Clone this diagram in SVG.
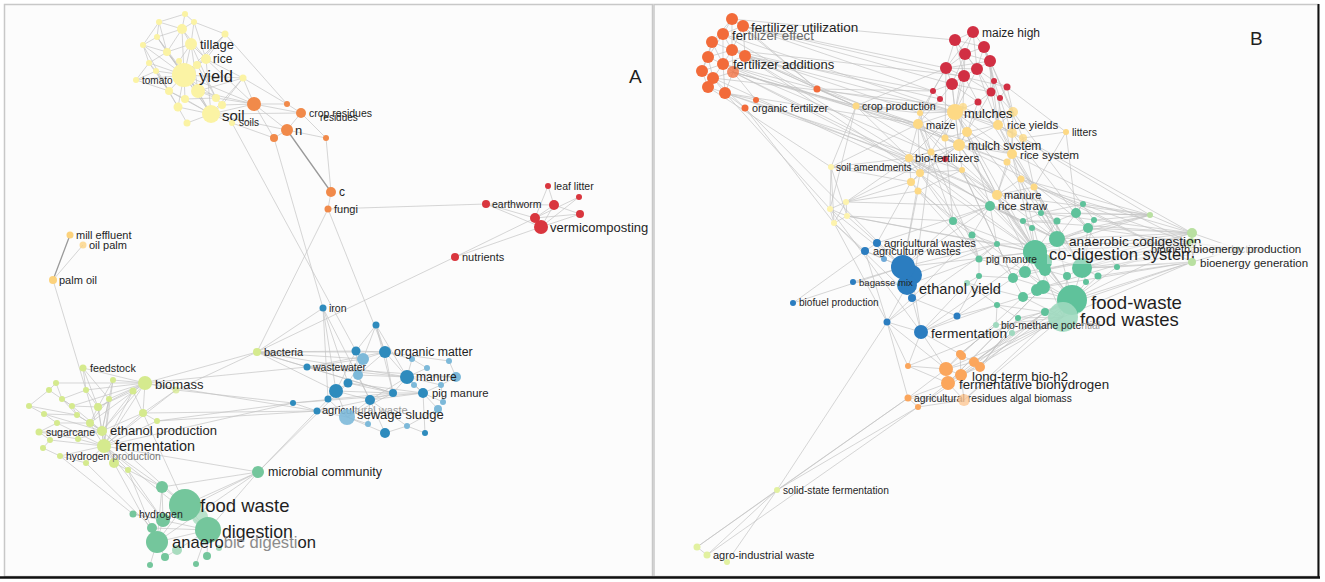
<svg xmlns="http://www.w3.org/2000/svg" width="1325" height="582" viewBox="0 0 1325 582">
<style>
.e{stroke:#c2c2c2;stroke-width:0.8;fill:none;stroke-opacity:0.85}
.ed{stroke:#9a9a9a;stroke-width:1.3;fill:none}
text{font-family:"Liberation Sans",Arial,sans-serif;fill:#1f1f1f}
.ya{fill:#fbf3a4}.oa{fill:#f18a4a}.ra{fill:#d9363e}.pa{fill:#fcd27c}
.ba{fill:#2e8bbd}.bl{fill:#7db9d9}.la{fill:#d5ea8e}.ga{fill:#74c69c}.gl{fill:#a9dcbf}
.fb{fill:#f26b3a}.rb{fill:#d12f43}.yb{fill:#fdd985}.pyb{fill:#fdf3ad}
.gb{fill:#5fc29b}.glb{fill:#9fd9bf}.bb{fill:#2b7dc0}.blb{fill:#6ea9d8}.ob{fill:#fba65c}.olb{fill:#fcc794}
.lgb{fill:#b9e0a1}.lgb2{fill:#e2f1a0}
</style>
<rect x="0" y="0" width="1325" height="582" fill="#ffffff"/>
<g id="frames">
<rect x="4.5" y="4.5" width="648" height="572" fill="#fcfcfc" stroke="#c8c8c8" stroke-width="1.5"/>
<rect x="654" y="4.5" width="664" height="572" fill="#fcfcfc" stroke="#c8c8c8" stroke-width="1.5"/>
<line x1="1318.5" y1="4" x2="1318.5" y2="578" stroke="#111" stroke-width="2"/>
<line x1="0" y1="577.5" x2="1320" y2="577.5" stroke="#111" stroke-width="2.5"/>
<text x="629" y="83" font-size="19">A</text>
<text x="1250" y="45" font-size="19">B</text>
</g>

<g id="connectors">
<path class="e" d="M185,14L182,29 M185,14L159,22 M185,14L194,22 M159,22L182,29 M194,22L182,29 M194,22L225,34 M182,29L191,44 M182,29L157,37 M159,22L157,37 M157,37L143,45 M157,37L167,52 M143,45L167,52 M143,45L149,63 M191,44L167,52 M191,44L206,59 M191,44L184,75 M191,44L179,61 M167,52L184,75 M167,52L149,63 M149,63L156,71 M156,71L184,75 M136,80L156,71 M136,80L184,75 M149,63L184,75 M179,61L184,75 M206,59L184,75 M206,59L197,65 M197,65L184,75 M225,34L206,59 M225,34L184,75 M243,78L184,75 M243,78L198,91 M243,78L222,105 M243,78L211,114 M184,75L169,91 M184,75L198,91 M184,75L185,99 M184,75L216,98 M184,75L211,114 M184,75L178,107 M169,91L178,107 M169,91L185,99 M198,91L216,98 M198,91L211,114 M185,99L211,114 M178,107L211,114 M178,107L187,123 M187,123L211,114 M216,98L222,105 M222,105L211,114 M211,114L232,123 M156,71L169,91 M143,45L184,75 M159,22L167,52 M182,29L206,59 M194,22L206,59 M136,80L169,91 M149,63L169,91 M157,37L184,75 M225,34L197,65 M167,52L198,91 M191,44L198,91 M179,61L211,114 M206,59L211,114 M185,99L216,98 M169,91L211,114 M182,29L184,75 M194,22L191,44 M159,22L143,45 M206,59L243,78 M197,65L216,98 M179,61L198,91 M156,71L178,107 M149,63L136,80 M167,52L211,114 M143,45L169,91 M157,37L198,91 M191,44L216,98 M182,29L167,52"/>
<path class="e" d="M243,78L254,104 M222,105L254,104 M211,114L254,104 M216,98L254,104 M198,91L254,104 M225,34L287,104 M211,114L287,130 M232,123L274,138 M206,59L254,104 M211,114L301,113 M184,75L254,104 M254,104L287,104 M254,104L301,113 M254,104L287,130 M254,104L274,138 M287,104L301,113 M301,113L287,130 M301,113L326,138 M287,130L326,138 M274,138L287,130 M326,138L331,192 M331,192L328,209 M274,138L323,308 M232,123L356,351 M328,209L486,204 M328,209L257,352 M328,209L385,352 M243,78L287,104"/>
<path class="ed" d="M287,130L331,192 M70,235L53,280"/>
<path class="e" d="M486,204L541,227 M486,204L535,218 M548,186L535,218 M486,204L554,205 M554,205L580,214 M554,205L541,227 M579,197L541,227 M579,197L535,218 M580,214L541,227 M535,218L554,205 M455,257L535,218 M455,257L541,227 M455,257L257,352 M548,186L554,205 M580,214L535,218 M83,245L53,280 M53,280L95,420"/>
<path class="e" d="M83,368L145,383 M83,368L86,390 M83,368L98,407 M83,368L109,399 M145,383L113,380 M145,383L133,391 M145,383L176,390 M145,383L109,399 M145,383L98,407 M145,383L143,413 M145,383L90,423 M145,383L102,431 M145,383L104,446 M145,383L86,390 M145,383L72,406 M145,383L56,383 M56,383L49,390 M56,383L62,399 M49,390L29,406 M49,390L72,406 M86,390L62,399 M86,390L98,407 M113,380L98,407 M133,391L98,407 M133,391L143,413 M109,399L90,423 M29,406L44,414 M62,399L72,406 M72,406L98,407 M72,406L77,415 M98,407L90,423 M98,407L102,431 M98,407L104,446 M44,414L77,415 M44,414L57,423 M77,415L90,423 M77,415L102,431 M143,413L102,431 M143,413L104,446 M157,421L104,446 M157,421L143,413 M57,423L39,432 M57,423L90,423 M90,423L102,431 M90,423L104,446 M39,432L102,431 M39,432L50,440 M39,432L78,439 M102,431L104,446 M102,431L78,439 M102,431L114,463 M50,440L43,448 M50,440L104,446 M78,439L104,446 M43,448L60,456 M60,456L104,446 M60,456L86,463 M86,463L104,446 M114,463L104,446 M128,470L104,446 M109,399L102,431 M29,406L77,415 M62,399L77,415 M113,380L104,446 M133,391L104,446 M176,390L104,446 M176,390L143,413 M72,406L102,431 M44,414L102,431 M57,423L104,446 M109,399L104,446 M133,391L102,431 M113,380L102,431"/>
<path class="e" d="M104,446L162,487 M114,463L162,487 M102,431L185,505 M128,470L163,520 M86,463L152,528 M114,463L157,542 M104,446L208,530 M60,456L133,514 M143,413L185,505 M128,470L157,542 M104,446L163,520 M162,487L185,505 M162,487L163,520 M185,505L208,530 M185,505L163,520 M163,520L157,542 M152,528L157,542 M133,514L163,520 M133,514L208,530 M157,542L208,530 M157,542L165,557 M157,542L150,565 M208,530L207,556 M208,530L196,564 M177,550L208,530 M185,505L157,542 M162,487L157,542 M152,528L208,530 M165,557L177,550 M258,472L162,487 M258,472L185,505 M258,472L163,520 M258,472L208,530 M258,472L336,391 M258,472L348,383 M258,472L157,542 M258,472L104,446"/>
<path class="e" d="M257,352L336,391 M257,352L385,352 M257,352L356,351 M257,352L407,377 M257,352L363,359 M257,352L307,367 M257,352L393,393 M257,352L145,383 M257,352L176,390 M145,383L307,367 M145,383L317,411 M176,390L293,403 M157,421L293,403 M157,421L317,411 M143,413L317,411 M104,446L293,403 M323,308L336,391 M323,308L328,399 M323,308L348,383 M323,308L370,400 M323,308L257,352"/>
<path class="e" d="M376,325L356,351 M376,325L385,352 M376,325L363,359 M376,325L407,377 M376,325L393,393 M356,351L385,352 M356,351L363,359 M356,351L358,375 M356,351L336,391 M385,352L363,359 M385,352L407,377 M385,352L412,359 M385,352L358,375 M385,352L393,393 M363,359L358,375 M363,359L348,383 M407,377L412,359 M407,377L427,368 M407,377L456,377 M407,377L414,385 M407,377L423,393 M407,377L393,393 M407,377L370,400 M407,377L441,385 M423,393L414,385 M423,393L441,385 M423,393L443,402 M423,393L438,409 M423,393L393,393 M423,393L370,400 M393,393L370,400 M393,393L347,417 M393,393L336,391 M348,383L336,391 M336,391L328,399 M336,391L347,417 M328,399L347,417 M370,400L347,417 M370,400L368,424 M370,400L385,433 M370,400L407,426 M293,403L393,393 M293,403L317,411 M317,411L347,417 M317,411L370,400 M347,417L368,424 M347,417L385,433 M385,433L407,426 M407,426L425,433 M425,433L423,393 M438,409L407,426 M443,402L441,385 M307,367L385,352 M307,367L407,377 M307,367L393,393 M307,367L363,359 M348,383L393,393 M358,375L407,377 M358,375L370,400 M348,383L423,393 M336,391L370,400 M449,361L456,377 M456,377L441,385 M412,359L427,368 M385,352L449,361 M307,367L456,377 M293,403L423,393"/>

<path class="e" d="M732,19L743,26 M732,19L723,34 M743,26L723,34 M723,34L712,42 M723,34L732,50 M743,26L732,50 M712,42L732,50 M712,42L708,57 M732,50L708,57 M732,50L745,56 M732,50L723,64 M708,57L723,64 M708,57L702,71 M745,56L723,64 M723,64L702,71 M723,64L733,72 M745,56L733,72 M702,71L713,78 M733,72L713,78 M713,78L708,87 M713,78L725,93 M708,87L725,93 M733,72L725,93 M732,19L732,50 M723,34L723,64 M712,42L723,64 M708,57L713,78 M723,64L713,78 M743,26L745,56 M702,71L708,87 M723,64L725,93 M732,50L733,72 M723,34L708,57 M732,19L712,42 M712,42L702,71 M725,93L745,108 M713,78L745,108 M733,72L756,100 M725,93L756,100"/>
<path class="e" d="M732,19L817,89 M743,26L817,89 M723,34L817,89 M732,50L856,106 M745,56L856,106 M723,64L817,89 M733,72L856,106 M743,26L933,91 M745,56L933,91 M732,50L940,99 M733,72L918,124 M725,93L918,124 M745,56L955,112 M723,34L955,112 M743,26L946,68 M725,93L909,158 M733,72L909,158 M723,64L945,138 M745,56L990,206 M708,87L831,167 M725,93L830,209 M713,78L963,107 M732,50L920,113 M756,100L997,195 M733,72L1012,154 M743,26L1007,87 M817,89L933,91 M817,89L918,124 M817,89L955,112 M817,89L856,106 M745,108L834,223 M745,56L1035,252 M733,72L1057,239 M745,108L903,267 M856,106L918,124 M856,106L920,113 M856,106L955,112 M856,106L909,158 M856,106L831,167 M856,106L830,209 M856,106L997,195 M856,106L946,68 M743,26L952,84 M732,50L964,76 M745,56L959,145 M723,64L931,152 M713,78L920,173 M725,93L962,170 M732,19L955,40"/>
<path class="e" d="M973,32L955,40 M973,32L984,47 M973,32L965,54 M955,40L965,54 M984,47L965,54 M984,47L990,61 M965,54L990,61 M955,40L946,68 M965,54L946,68 M965,54L977,69 M990,61L977,69 M946,68L977,69 M946,68L964,76 M977,69L964,76 M946,68L952,84 M964,76L952,84 M990,61L994,81 M977,69L994,81 M994,81L1007,87 M977,69L991,92 M994,81L991,92 M952,84L933,91 M952,84L940,99 M964,76L978,102 M991,92L1000,98 M1007,87L1000,98 M991,92L978,102 M973,32L946,68 M955,40L977,69 M984,47L977,69 M955,40L964,76 M965,54L952,84 M990,61L991,92 M973,32L977,69 M984,47L994,81 M952,84L978,102 M933,91L940,99 M964,76L991,92 M946,68L933,91 M965,54L964,76 M955,40L984,47 M946,68L990,61 M952,84L991,92 M952,84L955,112 M940,99L955,112 M978,102L955,112 M978,102L967,132 M991,92L998,125 M1000,98L1013,112 M1007,87L1013,112 M964,76L963,107 M933,91L918,124 M940,99L918,124 M952,84L959,145 M991,92L959,145 M977,69L998,125 M1007,87L1066,132 M990,61L1023,138 M978,102L1012,154 M946,68L920,113 M994,81L1012,133 M984,47L1013,112 M964,76L955,112 M1000,98L998,125 M965,54L955,112 M977,69L955,112 M990,61L998,125 M946,68L945,138 M984,47L1012,154"/>
<path class="e" d="M955,112L963,107 M955,112L918,124 M955,112L920,113 M955,112L998,125 M955,112L1013,112 M955,112L967,132 M955,112L945,138 M955,112L959,145 M955,112L931,152 M955,112L909,158 M955,112L1012,133 M918,124L920,113 M918,124L945,138 M918,124L909,158 M918,124L931,152 M918,124L959,145 M998,125L1013,112 M998,125L1012,133 M998,125L1023,138 M998,125L959,145 M998,125L1012,154 M1012,133L1012,154 M1023,138L1012,154 M967,132L959,145 M945,138L959,145 M959,145L931,152 M959,145L909,158 M959,145L1012,154 M959,145L1007,162 M959,145L962,170 M959,145L920,173 M1012,154L1007,162 M1012,154L1021,179 M1012,154L1034,187 M1012,154L997,195 M1007,162L997,195 M962,170L997,195 M962,170L920,173 M920,173L911,182 M911,182L918,191 M909,158L920,173 M909,158L911,182 M931,152L909,158 M931,152L920,173 M997,195L1021,179 M997,195L1034,187 M1021,179L1034,187 M1066,132L1034,187 M1023,138L1066,132 M998,125L967,132 M967,132L945,138 M918,124L920,173 M959,145L911,182 M962,170L918,191 M959,145L997,195 M955,112L1012,154 M955,112L997,195 M918,124L997,195 M909,158L997,195 M931,152L962,170 M963,107L998,125 M920,113L931,152 M831,167L909,158 M831,167L918,124 M831,167L920,173 M831,167L911,182 M831,167L830,209 M831,167L834,223 M831,167L847,216 M967,132L1012,154 M945,138L1007,162 M920,113L959,145 M963,107L959,145 M1013,112L1012,154 M1023,138L1034,187"/>
<path class="e" d="M918,124L990,206 M909,158L990,206 M909,158L1035,252 M959,145L1035,252 M1012,154L1035,252 M955,112L1057,239 M998,125L1082,268 M967,132L990,206 M945,138L953,221 M918,124L953,221 M909,158L953,221 M920,173L972,235 M911,182L877,243 M918,191L903,267 M920,173L903,267 M931,152L912,298 M959,145L1072,300 M955,112L1043,287 M962,170L1035,252 M997,195L1035,252 M997,195L1057,239 M997,195L1072,300 M1021,179L1082,268 M1034,187L1057,239 M1034,187L1192,233 M1021,179L1150,215 M1012,154L1191,243 M1034,187L1191,243 M997,195L1150,215 M998,125L1150,215 M1066,132L1076,213 M1023,138L1192,233 M959,145L1192,262 M1007,162L1088,228 M962,170L1013,278 M918,191L1025,272 M931,152L979,259 M1012,133L1117,267 M1013,112L1094,220 M1007,162L1057,239 M1021,179L1045,270 M1012,154L1082,268 M962,170L997,244 M967,132L1035,252 M1034,187L1082,268 M911,182L953,221 M918,191L979,259 M1021,179L1192,262"/>
<path class="e" d="M830,209L846,202 M830,209L847,216 M830,209L834,223 M846,202L847,216 M847,216L834,223 M846,202L834,223 M846,202L911,182 M846,202L918,191 M847,216L877,243 M834,223L865,251 M830,209L903,267 M846,202L990,206 M847,216L953,221 M834,223L887,322 M830,209L921,332 M847,216L1035,252 M846,202L959,145 M846,202L909,158 M834,223L912,298 M847,216L997,244"/>
<path class="e" d="M990,206L1023,221 M990,206L997,244 M990,206L1035,252 M990,206L1032,228 M990,206L972,235 M990,206L953,221 M1041,213L1057,221 M1041,213L1023,221 M1041,213L1057,239 M1083,204L1076,213 M1076,213L1088,228 M1076,213L1057,221 M1094,220L1088,228 M1057,221L1057,239 M1023,221L1032,228 M1032,228L1035,252 M1088,228L1057,239 M1088,228L1082,268 M953,221L972,235 M972,235L997,244 M972,235L979,259 M997,244L1035,252 M997,244L979,259 M1057,239L1035,252 M1057,239L1082,268 M1035,252L1045,270 M1035,252L1025,272 M1035,252L1013,278 M1035,252L1082,268 M1082,268L1117,267 M1082,268L1098,276 M1082,268L1067,276 M1082,268L1086,282 M1082,268L1072,300 M1067,276L1045,270 M1045,270L1043,287 M1013,278L1025,272 M1025,272L1043,287 M1043,287L1023,297 M1043,287L1072,300 M1013,278L1023,297 M1023,297L997,305 M1023,297L1063,317 M997,305L1018,318 M1018,318L1063,317 M1045,312L1072,300 M1045,312L1063,317 M1072,300L1063,317 M1037,290L1072,300 M1037,290L1043,287 M979,259L979,276 M979,276L967,283 M967,283L997,305 M979,276L1013,278 M1012,333L1018,318 M996,325L997,305 M996,325L1063,317 M1098,276L1072,300 M1086,282L1072,300 M1117,267L1072,300 M1035,252L1072,300 M1035,252L1063,317 M1057,239L1072,300 M997,244L1013,278 M979,259L1035,252 M953,221L979,259 M953,221L1035,252 M1057,221L1035,252 M1083,204L1057,239 M1094,220L1082,268 M1088,228L1035,252 M972,235L1013,278 M1041,213L1083,204 M1023,221L1057,221 M1032,228L1057,239 M1013,278L1043,287 M1025,272L1072,300 M1045,270L1072,300 M1023,297L1072,300 M997,305L1045,312 M1018,318L1045,312 M990,206L1057,239 M1023,221L1035,252 M979,259L1025,272 M967,283L1023,297 M1012,333L1063,317 M1067,276L1063,317"/>
<path class="e" d="M1150,215L1083,204 M1150,215L1076,213 M1150,215L1094,220 M1150,215L1088,228 M1150,215L1035,252 M1150,215L1057,239 M1150,215L1192,233 M1192,233L1088,228 M1192,233L1082,268 M1192,233L1057,239 M1192,233L1035,252 M1191,243L1082,268 M1191,243L1117,267 M1191,243L1072,300 M1191,243L1035,252 M1191,243L1045,270 M1192,262L1117,267 M1192,262L1098,276 M1192,262L1072,300 M1192,262L1063,317 M1192,262L1082,268 M1238,249L1192,233 M1238,249L1191,243 M1238,249L1192,262 M1238,249L1088,228 M1192,233L1191,243 M1191,243L1192,262 M1150,215L1041,213 M1192,233L990,206 M1191,243L1043,287 M1192,233L1013,278 M1191,243L997,244 M1192,262L1043,287 M1238,249L1082,268 M1192,233L1023,221 M1191,243L1025,272 M1192,262L1045,312"/>
<path class="e" d="M953,221L903,267 M990,206L903,267 M997,244L912,275 M979,259L907,285 M967,283L921,332 M997,305L921,332 M996,325L960,354 M1045,312L974,362 M1063,317L961,375 M1063,317L946,369 M1018,318L980,367 M1012,333L948,383 M1023,297L946,369 M1072,300L964,400 M979,276L957,316 M1013,278L957,316 M1035,252L903,267 M1035,252L921,332 M1043,287L948,383 M1072,300L908,366 M972,235L912,298 M997,244L887,322"/>
<path class="e" d="M877,243L865,251 M877,243L903,267 M865,251L903,267 M865,251L884,259 M884,259L903,267 M903,267L912,275 M903,267L907,285 M912,275L907,285 M907,285L912,298 M912,298L921,332 M912,298L887,322 M853,282L903,267 M853,282L907,285 M793,303L903,267 M887,322L921,332 M887,322L907,285 M921,332L957,316 M957,316L912,298 M921,332L912,275 M865,251L887,322 M877,243L990,206 M903,267L997,244 M957,316L997,305 M793,303L865,251"/>
<path class="e" d="M960,354L946,369 M960,354L974,362 M960,354L961,375 M946,369L974,362 M946,369L961,375 M946,369L948,383 M974,362L980,367 M980,367L961,375 M961,375L948,383 M908,366L946,369 M908,366L948,383 M948,383L908,398 M948,383L964,400 M961,375L964,400 M908,398L918,407 M918,407L948,383 M908,398L946,369 M908,366L921,332 M960,354L921,332 M946,369L921,332 M946,369L887,322 M908,366L887,322 M908,398L887,322 M980,367L1018,318 M974,362L1012,333 M961,375L1045,312 M964,400L1063,317 M918,407L1072,300 M948,383L1043,287 M960,354L996,325 M974,362L1063,317 M980,367L1045,312 M908,398L964,400 M918,407L964,400"/>
<path class="e" d="M777,490L887,322 M777,490L908,398 M777,490L918,407 M777,490L697,547 M777,490L707,555 M777,490L727,562 M697,547L908,398 M697,547L707,555 M707,555L918,407"/>
</g>

<g id="a-yellow-small">
<circle class="ya" cx="185" cy="14" r="3"/><circle class="ya" cx="159" cy="22" r="3"/><circle class="ya" cx="194" cy="22" r="3"/><circle class="ya" cx="182" cy="29" r="5"/><circle class="ya" cx="225" cy="34" r="3.5"/><circle class="ya" cx="157" cy="37" r="3"/><circle class="ya" cx="143" cy="45" r="3"/><circle class="ya" cx="167" cy="52" r="4"/><circle class="ya" cx="149" cy="63" r="3"/><circle class="ya" cx="179" cy="61" r="3"/><circle class="ya" cx="156" cy="71" r="3"/><circle class="ya" cx="197" cy="65" r="4"/><circle class="ya" cx="243" cy="78" r="3.5"/><circle class="ya" cx="169" cy="91" r="4"/><circle class="ya" cx="198" cy="91" r="7"/><circle class="ya" cx="185" cy="99" r="4"/><circle class="ya" cx="216" cy="98" r="4"/><circle class="ya" cx="178" cy="107" r="4.5"/><circle class="ya" cx="222" cy="105" r="4"/><circle class="ya" cx="187" cy="123" r="3.5"/>
</g>
<g id="a-orange-small">
<circle class="oa" cx="254" cy="104" r="7"/><circle class="oa" cx="287" cy="104" r="3"/><circle class="oa" cx="274" cy="138" r="4"/><circle class="oa" cx="326" cy="138" r="3"/>
</g>
<g id="a-red-small">
<circle class="ra" cx="535" cy="218" r="5"/><circle class="ra" cx="554" cy="205" r="5"/><circle class="ra" cx="580" cy="214" r="4"/><circle class="ra" cx="579" cy="197" r="3"/>
</g>
<g id="a-blue-small">
<circle class="ba" cx="376" cy="325" r="3.5"/><circle class="ba" cx="356" cy="351" r="4.5"/><circle class="bl" cx="363" cy="359" r="6"/><circle class="bl" cx="412" cy="359" r="3"/><circle class="bl" cx="449" cy="361" r="3"/><circle class="bl" cx="427" cy="368" r="3"/><circle class="bl" cx="358" cy="375" r="5"/><circle class="bl" cx="456" cy="377" r="5"/><circle class="ba" cx="348" cy="383" r="4.5"/><circle class="bl" cx="414" cy="385" r="3"/><circle class="bl" cx="441" cy="385" r="3"/><circle class="ba" cx="336" cy="391" r="7"/><circle class="ba" cx="393" cy="393" r="4"/><circle class="ba" cx="328" cy="399" r="3.5"/><circle class="ba" cx="370" cy="400" r="5"/><circle class="bl" cx="443" cy="402" r="3"/><circle class="ba" cx="293" cy="403" r="3"/><circle class="bl" cx="438" cy="409" r="4"/><circle class="bl" cx="368" cy="424" r="3"/><circle class="bl" cx="407" cy="426" r="3"/><circle class="ba" cx="385" cy="433" r="5"/><circle class="ba" cx="425" cy="433" r="3"/>
</g>
<g id="a-lightgreen-small">
<circle class="la" cx="56" cy="383" r="3"/><circle class="la" cx="49" cy="390" r="3"/><circle class="la" cx="86" cy="390" r="3"/><circle class="la" cx="113" cy="380" r="3"/><circle class="la" cx="133" cy="391" r="3.5"/><circle class="la" cx="176" cy="390" r="3.5" opacity="0.75"/><circle class="la" cx="109" cy="399" r="3"/><circle class="la" cx="29" cy="406" r="3"/><circle class="la" cx="62" cy="399" r="3"/><circle class="la" cx="72" cy="406" r="3"/><circle class="la" cx="98" cy="407" r="4"/><circle class="la" cx="44" cy="414" r="3"/><circle class="la" cx="77" cy="415" r="3"/><circle class="la" cx="143" cy="413" r="4"/><circle class="la" cx="157" cy="421" r="3"/><circle class="la" cx="57" cy="423" r="3"/><circle class="la" cx="90" cy="423" r="4"/><circle class="la" cx="50" cy="440" r="3"/><circle class="la" cx="78" cy="439" r="3"/><circle class="la" cx="43" cy="448" r="3"/><circle class="la" cx="86" cy="463" r="3"/><circle class="la" cx="114" cy="463" r="5"/><circle class="la" cx="128" cy="470" r="3"/>
</g>
<g id="a-green-small">
<circle class="ga" cx="162" cy="487" r="6"/><circle class="ga" cx="163" cy="520" r="7"/><circle class="ga" cx="152" cy="528" r="5"/><circle class="gl" cx="200" cy="517" r="8" opacity="0.8"/><circle class="gl" cx="177" cy="550" r="5"/><circle class="ga" cx="165" cy="557" r="4"/><circle class="ga" cx="207" cy="556" r="4"/><circle class="ga" cx="150" cy="565" r="3"/><circle class="ga" cx="196" cy="564" r="3"/><circle class="gl" cx="219" cy="548" r="3"/>
</g>

<g id="n-yield"><circle class="ya" cx="184" cy="75" r="12"/><text x="199" y="82" font-size="16.5">yield</text></g>
<g id="n-tillage"><circle class="ya" cx="191" cy="44" r="6"/><text x="200" y="49" font-size="13">tillage</text></g>
<g id="n-rice"><circle class="ya" cx="206" cy="59" r="5"/><text x="213" y="63" font-size="12">rice</text></g>
<g id="n-tomato"><circle class="ya" cx="136" cy="80" r="3"/><text x="142" y="84" font-size="10">tomato</text></g>
<g id="n-soil"><circle class="ya" cx="211" cy="114" r="9"/><text x="222" y="121" font-size="15">soil</text></g>
<g id="n-soils"><circle class="ya" cx="232" cy="123" r="3"/><text x="239" y="126" font-size="10">soils</text></g>
<g id="n-crop-residues"><circle class="oa" cx="301" cy="113" r="5"/><text x="309" y="117" font-size="10.5">crop residues</text><text x="320" y="121" font-size="10" fill="#555">residues</text></g>
<g id="n-n"><circle class="oa" cx="287" cy="130" r="6"/><text x="295" y="135" font-size="13">n</text></g>
<g id="n-c"><circle class="oa" cx="331" cy="192" r="5"/><text x="339" y="196" font-size="12">c</text></g>
<g id="n-fungi"><circle class="oa" cx="328" cy="209" r="3.5"/><text x="334" y="213" font-size="11">fungi</text></g>
<g id="n-leaf-litter"><circle class="ra" cx="548" cy="186" r="3"/><text x="554" y="190" font-size="10.5">leaf litter</text></g>
<g id="n-earthworm"><circle class="ra" cx="486" cy="204" r="4"/><text x="492" y="208" font-size="10.5">earthworm</text></g>
<g id="n-vermicomposting"><circle class="ra" cx="541" cy="227" r="7"/><text x="550" y="232" font-size="13">vermicomposting</text></g>
<g id="n-nutrients"><circle class="ra" cx="455" cy="257" r="4"/><text x="462" y="261" font-size="11">nutrients</text></g>
<g id="n-mill-effluent"><circle class="pa" cx="70" cy="235" r="3.5"/><text x="76" y="239" font-size="11">mill effluent</text></g>
<g id="n-oil-palm"><circle class="pa" cx="83" cy="245" r="3.5" opacity="0.75"/><text x="89" y="249" font-size="11">oil palm</text></g>
<g id="n-palm-oil"><circle class="pa" cx="53" cy="280" r="4"/><text x="59" y="284" font-size="11">palm oil</text></g>
<g id="n-iron"><circle class="ba" cx="323" cy="308" r="3.5"/><text x="329" y="312" font-size="10.5">iron</text></g>
<g id="n-organic-matter"><circle class="ba" cx="385" cy="352" r="6"/><text x="394" y="356" font-size="12.3">organic matter</text></g>
<g id="n-wastewater"><circle class="ba" cx="307" cy="367" r="3.5"/><text x="313" y="371" font-size="10.5">wastewater</text></g>
<g id="n-manure-a"><circle class="ba" cx="407" cy="377" r="7"/><text x="416" y="381" font-size="12">manure</text></g>
<g id="n-pig-manure-a"><circle class="ba" cx="423" cy="393" r="5"/><text x="432" y="397" font-size="11.3">pig manure</text></g>
<g id="n-agricultural-waste"><circle class="ba" cx="317" cy="411" r="3.5"/><text x="322" y="414" font-size="11">agricul<tspan fill="#9a9a9a">tural waste</tspan></text></g>
<g id="n-sewage-sludge"><circle class="bl" cx="347" cy="417" r="8" opacity="0.9"/><text x="357" y="419" font-size="13">sewage sludge</text></g>
<g id="n-bacteria"><circle class="la" cx="257" cy="352" r="4"/><text x="264" y="356" font-size="11">bacteria</text></g>
<g id="n-feedstock"><circle class="la" cx="83" cy="368" r="3.5"/><text x="90" y="372" font-size="10.7">feedstock</text></g>
<g id="n-biomass"><circle class="la" cx="145" cy="383" r="7"/><text x="155" y="389" font-size="13">biomass</text></g>
<g id="n-sugarcane"><circle class="la" cx="39" cy="432" r="3.5"/><text x="46" y="436" font-size="10.5">sugarcane</text></g>
<g id="n-ethanol-production"><circle class="la" cx="102" cy="431" r="5"/><text x="110" y="435" font-size="13">ethanol production</text></g>
<g id="n-fermentation-a"><circle class="la" cx="104" cy="446" r="7"/><text x="115" y="451" font-size="14.4">fermentation</text></g>
<g id="n-hydrogen-production"><circle class="la" cx="60" cy="456" r="3"/><text x="66" y="460" font-size="10.4">hydrogen<tspan fill="#777"> production</tspan></text></g>
<g id="n-microbial-community"><circle class="ga" cx="258" cy="472" r="6"/><text x="268" y="476" font-size="12.5">microbial community</text></g>
<g id="n-food-waste"><circle class="ga" cx="185" cy="505" r="16"/><text x="200" y="512" font-size="18.5">food waste</text></g>
<g id="n-hydrogen"><circle class="ga" cx="133" cy="514" r="3.5"/><text x="139" y="518" font-size="10.5">hydrogen</text></g>
<g id="n-digestion"><circle class="ga" cx="208" cy="530" r="13"/><text x="222" y="538" font-size="17.7">digestion</text></g>
<g id="n-anaerobic-digestion"><circle class="ga" cx="157" cy="542" r="11"/><text x="172" y="548" font-size="16.6">anaero<tspan fill="#8c8c8c">bic digesti</tspan>on</text></g>

<g id="b-fert-small">
<circle class="fb" cx="732" cy="19" r="6"/><circle class="fb" cx="712" cy="42" r="6"/><circle class="fb" cx="732" cy="50" r="6"/><circle class="fb" cx="708" cy="57" r="6"/><circle class="fb" cx="745" cy="56" r="6"/><circle class="fb" cx="702" cy="71" r="6"/><circle class="fb" cx="733" cy="72" r="6" opacity="0.75"/><circle class="fb" cx="713" cy="78" r="6"/><circle class="fb" cx="708" cy="87" r="6"/><circle class="fb" cx="725" cy="93" r="6"/><circle class="fb" cx="817" cy="89" r="3.5"/><circle class="fb" cx="756" cy="100" r="3"/>
</g>
<g id="b-red-small">
<circle class="rb" cx="955" cy="40" r="6"/><circle class="rb" cx="984" cy="47" r="6"/><circle class="rb" cx="965" cy="54" r="6"/><circle class="rb" cx="990" cy="61" r="6"/><circle class="rb" cx="946" cy="68" r="6"/><circle class="rb" cx="977" cy="69" r="6"/><circle class="rb" cx="964" cy="76" r="6"/><circle class="rb" cx="952" cy="84" r="6"/><circle class="rb" cx="994" cy="81" r="3"/><circle class="rb" cx="1007" cy="87" r="3.5"/><circle class="rb" cx="991" cy="92" r="4.5"/><circle class="rb" cx="933" cy="91" r="3"/><circle class="rb" cx="940" cy="99" r="3"/><circle class="rb" cx="1000" cy="98" r="3"/><circle class="rb" cx="978" cy="102" r="3.5"/><circle class="rb" cx="945" cy="159" r="3"/>
</g>
<g id="b-yellow-small">
<circle class="yb" cx="963" cy="107" r="4" opacity="0.8"/><circle class="yb" cx="920" cy="113" r="3"/><circle class="yb" cx="1013" cy="112" r="5" opacity="0.8"/><circle class="yb" cx="1012" cy="133" r="5" opacity="0.8"/><circle class="yb" cx="1023" cy="138" r="4" opacity="0.8"/><circle class="yb" cx="967" cy="132" r="5"/><circle class="yb" cx="945" cy="138" r="3.5"/><circle class="yb" cx="931" cy="152" r="3.5"/><circle class="yb" cx="1007" cy="162" r="3.5"/><circle class="yb" cx="962" cy="170" r="3"/><circle class="yb" cx="920" cy="173" r="4"/><circle class="yb" cx="911" cy="182" r="4"/><circle class="yb" cx="918" cy="191" r="3.5"/><circle class="yb" cx="1021" cy="179" r="3.5"/><circle class="yb" cx="1034" cy="187" r="3.5"/>
<circle class="pyb" cx="830" cy="209" r="3"/><circle class="pyb" cx="846" cy="202" r="3"/><circle class="pyb" cx="847" cy="216" r="3"/><circle class="pyb" cx="834" cy="223" r="3"/>
</g>
<g id="b-green-small">
<circle class="gb" cx="1041" cy="213" r="3"/><circle class="gb" cx="1083" cy="204" r="3"/><circle class="gb" cx="1076" cy="213" r="5"/><circle class="gb" cx="1094" cy="220" r="3"/><circle class="gb" cx="1057" cy="221" r="3.5"/><circle class="gb" cx="1023" cy="221" r="3"/><circle class="gb" cx="1032" cy="228" r="3"/><circle class="gb" cx="1088" cy="228" r="5"/><circle class="gb" cx="953" cy="221" r="4"/><circle class="gb" cx="972" cy="235" r="3.5"/><circle class="gb" cx="997" cy="244" r="3"/><circle class="gb" cx="1082" cy="268" r="10"/><circle class="gb" cx="1117" cy="267" r="3"/><circle class="gb" cx="1098" cy="276" r="3.5"/><circle class="gb" cx="1067" cy="276" r="4"/><circle class="gb" cx="1086" cy="282" r="3"/><circle class="gb" cx="1045" cy="270" r="6"/><circle class="gb" cx="1013" cy="278" r="5"/><circle class="gb" cx="1025" cy="272" r="6"/><circle class="gb" cx="1043" cy="287" r="7"/><circle class="gb" cx="1037" cy="290" r="6"/><circle class="gb" cx="1023" cy="297" r="5"/><circle class="gb" cx="979" cy="276" r="3"/><circle class="glb" cx="967" cy="283" r="3"/><circle class="gb" cx="997" cy="305" r="3"/><circle class="gb" cx="1018" cy="318" r="3"/><circle class="glb" cx="1012" cy="333" r="3"/><circle class="gb" cx="1045" cy="312" r="4"/><circle class="gb" cx="1043" cy="262" r="9"/>
</g>
<g id="b-bioenergy-small">
<circle class="lgb" cx="1150" cy="215" r="3"/><circle class="lgb" cx="1191" cy="243" r="5"/><circle class="lgb" cx="1238" cy="249" r="3"/>
</g>
<g id="b-blue-small">
<circle class="blb" cx="884" cy="259" r="3"/><circle class="bb" cx="912" cy="275" r="10"/><circle class="bb" cx="907" cy="285" r="10"/><circle class="bb" cx="912" cy="298" r="4"/><circle class="bb" cx="887" cy="322" r="3.5"/><circle class="bb" cx="957" cy="316" r="3.5"/>
</g>
<g id="b-orange-small">
<circle class="ob" cx="960" cy="354" r="4"/><circle class="ob" cx="908" cy="366" r="3"/><circle class="ob" cx="946" cy="369" r="7"/><circle class="ob" cx="974" cy="362" r="5"/><circle class="ob" cx="980" cy="367" r="5"/><circle class="ob" cx="961" cy="375" r="6"/><circle class="ob" cx="918" cy="407" r="3"/>
</g>
<g id="b-agro-small">
<circle class="lgb2" cx="697" cy="547" r="3.5"/><circle class="lgb2" cx="727" cy="562" r="3"/>
</g>

<g id="n-fertilizer-utilization"><circle class="fb" cx="743" cy="26" r="6"/><text x="751" y="32" font-size="13.5">fertilizer utilization</text></g>
<g id="n-fertilizer-effect"><circle class="fb" cx="723" cy="34" r="6"/><text x="732" y="40" font-size="13.2">fer<tspan fill="#6a6a6a">tilizer effect</tspan></text></g>
<g id="n-fertilizer-additions"><circle class="fb" cx="723" cy="64" r="6"/><text x="733" y="69" font-size="13">fertilizer additions</text></g>
<g id="n-organic-fertilizer"><circle class="fb" cx="745" cy="108" r="3.5"/><text x="752" y="112" font-size="10.8">organic fertilizer</text></g>
<g id="n-crop-production"><circle class="yb" cx="856" cy="106" r="3.5"/><text x="862" y="110" font-size="10.7">crop production</text></g>
<g id="n-maize-high"><circle class="rb" cx="973" cy="32" r="6"/><text x="982" y="37" font-size="12">maize high</text></g>
<g id="n-mulches"><circle class="yb" cx="955" cy="112" r="8"/><text x="964" y="118" font-size="13">mulches</text></g>
<g id="n-maize"><circle class="yb" cx="918" cy="124" r="5"/><text x="926" y="129" font-size="11">maize</text></g>
<g id="n-rice-yields"><circle class="yb" cx="998" cy="125" r="5"/><text x="1007" y="129" font-size="11.5">rice yields</text></g>
<g id="n-litters"><circle class="yb" cx="1066" cy="132" r="3"/><text x="1072" y="136" font-size="10.5">litters</text></g>
<g id="n-mulch-system"><circle class="yb" cx="959" cy="145" r="6"/><text x="968" y="150" font-size="12">mulch system</text></g>
<g id="n-rice-system"><circle class="yb" cx="1012" cy="154" r="5"/><text x="1020" y="159" font-size="11.7">rice system</text></g>
<g id="n-bio-fertilizers"><circle class="yb" cx="909" cy="158" r="4"/><text x="915" y="162" font-size="11.3">bio-fertilizers</text></g>
<g id="n-soil-amendments"><circle class="pyb" cx="831" cy="167" r="3"/><text x="836" y="171" font-size="10">soil amendments</text></g>
<g id="n-manure-b"><circle class="yb" cx="997" cy="195" r="5"/><text x="1004" y="199" font-size="11">manure</text></g>
<g id="n-rice-straw"><circle class="gb" cx="990" cy="206" r="5"/><text x="998" y="210" font-size="11.5">rice straw</text></g>
<g id="n-co-digestion-system"><circle class="gb" cx="1035" cy="252" r="12"/><rect x="1047" y="244" width="148" height="20" fill="#fff" opacity="0.35"/><text x="1049" y="260" font-size="16.5">co-digestion system</text></g>
<g id="n-anaerobic-codigestion"><circle class="gb" cx="1057" cy="239" r="8"/><text x="1069" y="246" font-size="13.6">anaerobic codigestion</text></g>
<g id="n-bioenergy-production"><circle class="lgb" cx="1192" cy="233" r="5"/><text x="1151" y="253" font-size="11" fill="#c4c4c4">biomethane production</text><rect x="1191" y="243" width="112" height="13" fill="#fcfcfc" opacity="0.75"/><text x="1193" y="253" font-size="11.6">bioenergy production</text></g>
<g id="n-bioenergy-generation"><circle class="lgb" cx="1192" cy="262" r="4"/><text x="1200" y="267" font-size="11.5">bioenergy generation</text></g>
<g id="n-pig-manure-b"><circle class="gb" cx="979" cy="259" r="3.5"/><text x="986" y="263" font-size="10.2">pig manure</text></g>
<g id="n-food-waste-b"><circle class="gb" cx="1072" cy="300" r="15"/><text x="1091" y="309" font-size="18.6">food-waste</text></g>
<g id="n-food-wastes"><circle class="glb" cx="1063" cy="317" r="15" opacity="0.9"/><rect x="1078" y="312" width="101" height="17" fill="#fff" opacity="0.35"/><text x="1080" y="326" font-size="18.5">food wastes</text></g>
<g id="n-bio-methane-potential"><circle class="glb" cx="996" cy="325" r="3"/><text x="1001" y="329" font-size="10.3">bio-methane pote<tspan fill="#999">ntial</tspan></text></g>
<g id="n-agricultural-wastes"><circle class="bb" cx="877" cy="243" r="4"/><text x="884" y="247" font-size="11.1">agricultural wastes</text></g>
<g id="n-agriculture-wastes"><circle class="bb" cx="865" cy="251" r="4"/><text x="873" y="255" font-size="10.9" fill="#6f6f6f">agriculture wastes</text></g>
<g id="n-ethanol-yield"><circle class="bb" cx="903" cy="267" r="12"/><text x="919" y="294" font-size="14.6">ethanol yield</text></g>
<g id="n-bagasse-mix"><circle class="bb" cx="853" cy="282" r="3"/><text x="859" y="286" font-size="9.6">bagasse mix</text></g>
<g id="n-biofuel-production"><circle class="bb" cx="793" cy="303" r="3"/><text x="799" y="306" font-size="10.1">biofuel production</text></g>
<g id="n-fermentation-b"><circle class="bb" cx="921" cy="332" r="7"/><text x="931" y="338" font-size="13.7">fermentation</text></g>
<g id="n-long-term-bio-h2"><circle class="ob" cx="962" cy="356" r="4"/><text x="972" y="381" font-size="13.2" fill="#555">long-term bio-h2</text></g>
<g id="n-fermentative-biohydrogen"><circle class="ob" cx="948" cy="383" r="7"/><text x="959" y="389" font-size="13.3">fermentative biohydrogen</text></g>
<g id="n-agricultural-residues"><circle class="ob" cx="908" cy="398" r="3.5"/><text x="914" y="402" font-size="10.4">agricultural residues</text></g>
<g id="n-algal-biomass"><circle class="olb" cx="964" cy="400" r="6" opacity="0.8"/><text x="1010" y="402" font-size="10.1">algal biomass</text></g>
<g id="n-solid-state-fermentation"><circle class="lgb2" cx="777" cy="490" r="3"/><text x="783" y="494" font-size="10.2">solid-state fermentation</text></g>
<g id="n-agro-industrial-waste"><circle class="lgb2" cx="707" cy="555" r="3.5"/><text x="713" y="559" font-size="11">agro-industrial waste</text></g>
</svg>
